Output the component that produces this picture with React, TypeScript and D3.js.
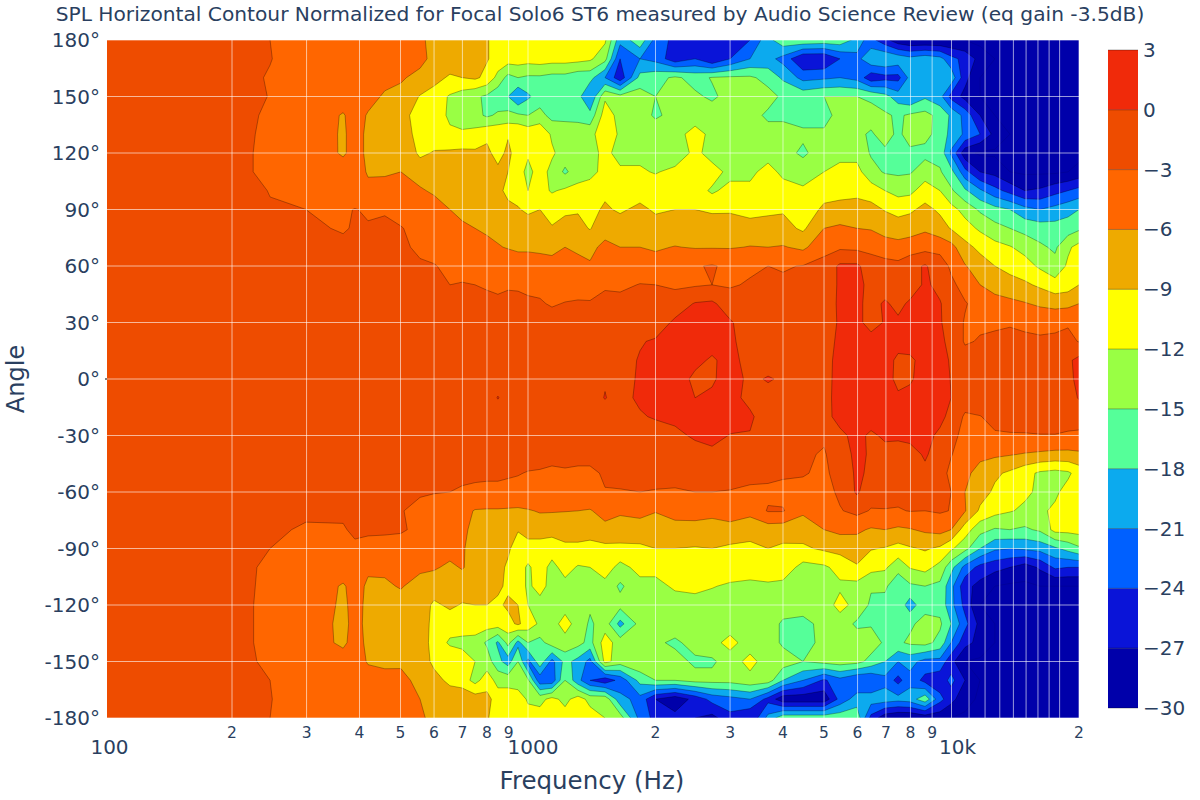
import * as d3 from 'd3';

// frequency of each measured column (Hz)
const freqs = [
  101, 143, 200, 221, 246, 299, 366, 390, 419, 459, 501, 556, 600,
  654, 699, 750, 800, 849, 897, 947, 1000, 1067, 1139,
  1223, 1312, 1401, 1520, 1650, 1838, 2000, 2224, 2480, 2720,
  3000, 3344, 3688, 4000, 4460, 5000, 5452, 5980, 6456, 6966,
  7480, 7980, 8660, 9394, 9980, 10760, 11680, 12660, 13740, 14900,
  16180, 17560, 18840, 20000,
];
const angles = d3.range(180, -181, -10);

// SPL in dB, one row per angle from 180 down to -180
const spl: number[][] = [
  [-1.5,-2,-2.3,-2.5,-3,-4.5,-4.5,-4.5,-4.6,-4.8,-5,-5.7,-6.5, -7,-7.3,-8,-8.8,-10,-10.3,-10.5,-10.5,-10.5,-10.5, -10.5,-10.5,-10.8,-11.5,-20,-16,-22,-25,-26,-25.5, -26,-24,-19,-16,-15.5,-16,-16,-19,-23,-26, -29,-30,-30,-30,-30,-30,-31,-31,-31,-31, -31,-31,-31,-31],
  [-1.5,-2,-2.3,-2.5,-2.9,-4.5,-4.5,-4.5,-4.6,-4.7,-4.8,-5.5,-6.5, -6.8,-7.3,-8,-8.8,-10,-10.5,-10.5,-10.8,-10.5,-10.8, -10.8,-11,-11.5,-14,-24,-21,-22,-26,-24,-27, -24,-21,-20,-22,-27,-27,-24,-22,-18.5,-18, -19,-20,-19,-20,-23,-25,-28,-30,-31,-31, -31,-31,-31,-31],
  [-1.5,-2,-2.4,-2.6,-3.2,-4.5,-4.6,-4.8,-4.9,-5.3,-5.8,-6.5,-7.8, -9.5,-9,-8.5,-9.8,-13,-16,-15,-15.5,-15.5,-16, -16,-17,-17,-21,-26,-17,-16,-14.5,-16,-14.8, -14.5,-14.5,-16,-18.5,-22,-21.5,-21,-22,-26,-25, -25,-20,-19,-20,-19,-26,-30,-31,-31,-31, -31,-31,-31,-31],
  [-1.5,-2,-2.3,-2.7,-3.05,-4.3,-4.8,-4.9,-5.2,-6.3,-6.5,-9.2,-10.5, -12.3,-13.5,-14.5,-15.5,-17,-18,-21,-18.5,-16.5,-18, -16.5,-17,-21,-12.5,-14,-13.5,-15,-14,-14.5,-15.5, -14,-14,-14,-15.5,-16,-15,-15,-15,-15.5,-17, -19.5,-21,-18.5,-20,-25,-28,-30,-31,-31,-31, -31,-31,-31,-31],
  [-1.5,-2,-2.2,-2.85,-3.2,-4.3,-6.2,-5,-6.2,-6.8,-6.5,-12,-10.5, -12.5,-13.5,-14,-15.5,-14.5,-14,-14.5,-15,-14,-16, -16,-16.5,-17,-10.5,-13,-13.5,-15.5,-14,-14,-13.5, -13.5,-14,-15.5,-15.5,-16,-16,-14,-14,-14,-14.5, -15.5,-14.5,-14,-16,-18.5,-22,-27,-30,-31,-31, -31,-31,-31,-31],
  [-1.5,-2,-2.2,-2.9,-3.3,-4.3,-6.3,-5.2,-6.4,-6.9,-6.8,-10.5,-10.3, -11.5,-11.5,-11,-9.5,-9.5,-9.2,-9,-10,-9.5,-12.5, -13,-12.5,-13,-10,-12.5,-13,-13,-13.5,-10.5,-13, -13.5,-13.5,-14,-14,-14.5,-14.5,-13,-14.5,-15.3,-14, -15.5,-14,-14.2,-16,-19,-21.5,-24,-28,-30,-31, -31,-31,-31,-31],
  [-1.5,-2,-2.2,-2.95,-3.3,-4.2,-6.3,-5.2,-6.4,-6.9,-6.8,-9.5,-8.8, -8.5,-8.3,-8.5,-8.5,-9.8,-8.5,-10,-11.5,-10,-11.5, -13.5,-14,-14,-10.5,-14,-13,-12.5,-14.5,-11,-13.5, -13.5,-13.5,-13.7,-14,-15.5,-13.5,-13,-13,-15.3,-15.5, -15.5,-15.5,-15.8,-16,-21.5,-29,-30.5,-30.5,-30.5,-30.5, -30.5,-31,-31,-31],
  [-1.5,-2,-2.2,-2.95,-3.3,-4.2,-4.9,-5,-6.2,-6.2,-6,-7.5,-7.5, -8,-8,-8,-8,-8.5,-9,-10.5,-13,-10.5,-13, -15.5,-13.5,-13,-11,-11,-11.5,-12.3,-11,-10,-10.5, -13,-13,-10.5,-13,-13.5,-12,-11,-11,-14,-15.3, -15.5,-15.3,-13.5,-14.7,-17,-23,-27,-28,-30,-30.5, -30.5,-30.5,-30,-29],
  [-1.6,-2,-2.3,-2.7,-3.05,-4,-4.7,-4.8,-5.5,-5.4,-5.5,-5.6,-6.5, -7,-7,-7.5,-8,-8.5,-9.5,-10,-12,-11,-12.3, -11.5,-11,-10.5,-9.7,-10,-10.5,-9.8,-11,-10.5,-12.5, -11,-11,-10.2,-10.3,-11.5,-10,-10,-10,-10.5,-12, -13,-12.8,-10.5,-12,-14.5,-17.5,-20.5,-23,-25,-27, -26.5,-25,-24,-23],
  [-1.5,-2,-2.3,-2.6,-2.9,-3,-3.4,-2.9,-3.3,-3.1,-3.7,-4,-4.5, -6,-6.3,-6.8,-7.5,-8,-8.5,-8.8,-9.5,-9,-10, -9.5,-9.3,-10,-8.5,-9.5,-8.2,-9.5,-9,-9,-9.5, -9.3,-10.3,-9.5,-9.3,-10.5,-8.5,-8,-7.5,-8,-9.2, -10,-9.5,-8.2,-9.5,-11,-13,-15.5,-17,-18,-20, -21,-20,-19,-18],
  [-1.5,-2,-2.2,-2.4,-2.5,-2.6,-3.2,-2.8,-2.8,-2.8,-2.9,-3.6,-4.5, -5.3,-5.8,-6,-6.3,-6.8,-7,-7.3,-7.6,-7.8,-8.8, -8,-8,-9.2,-6.8,-7.2,-6.5,-7.5,-7.5,-7,-7.2, -7.8,-7.5,-8,-8,-9.5,-6,-5.5,-6,-6.2,-7, -7.5,-7.3,-6.5,-7.8,-9.2,-10.8,-12.5,-14,-15,-16, -16.5,-16.8,-16.5,-15.5],
  [-1.5,-1.9,-2.1,-2.2,-2.3,-2.4,-2.5,-2.5,-2.5,-2.6,-2.7,-3.3,-3.7, -4,-4.5,-5,-5.5,-5.8,-6.2,-6.5,-6.4,-6.5,-6.4, -6,-6.3,-6.5,-5.5,-6,-6,-6.3,-5.9,-6.2,-6.2, -6.2,-5.9,-6,-5.8,-6.6,-4,-3.5,-3.7,-3.9,-4.8, -5,-4.5,-4,-4,-5,-8,-9.8,-11,-11.8,-13, -14.5,-15.5,-12.5,-11],
  [-1.5,-1.9,-2.1,-2.2,-2.3,-2.4,-2.5,-2.5,-2.5,-2.6,-2.6,-2.8,-2.9, -3.4,-3.6,-3.5,-3,-3.5,-4,-4.5,-4.8,-5,-5.5, -5.6,-5.5,-5.8,-3.8,-4.5,-4.5,-5,-3.5,-3.2,-2.8, -3.5,-3.5,-3,-3.2,-2.9,-2,0.5,0.5,-1.5,-1.8, -2.2,-1,0.3,-1.5,-3.5,-5.8,-7.5,-9,-10,-10.8, -12.5,-14,-11.5,-11],
  [-1.5,-1.8,-2,-2.1,-2.2,-2.3,-2.4,-2.4,-2.4,-2.5,-2.5,-2.6,-2.7, -3,-2.9,-3,-3.2,-3.5,-3.2,-3.2,-3.4,-3.5,-4, -4,-3.8,-3.5,-3.3,-3.5,-2.9,-3,-3.5,-3.3,-3, -3.3,-2.7,-2.5,-2.6,-2.6,-2.4,0.6,0.5,-0.5,-1.5, -1.5,-1.7,0.5,-0.8,-2.4,-4,-6,-7.2,-7.8,-8.5, -9.5,-10.8,-10.3,-9],
  [-1.5,-1.8,-1.9,-2,-2.1,-2.2,-2.2,-2.2,-2.2,-2.2,-2.2,-2.3,-2.3, -2.4,-2.4,-2.4,-2.5,-2.5,-2.5,-2.6,-2.7,-2.8,-3.2, -2.9,-2.8,-2.9,-2.3,-2.2,-2.2,-2.2,-1.5,0.2,0.5, -1.5,-1.8,-1.6,-1.7,-1.7,-1.6,0.5,0.7,-1,0.4, -0.8,0.5,0.7,0.2,-1.5,-2.8,-4,-4.8,-5.3,-5.8, -6.5,-7,-6.8,-6],
  [-1.4,-1.7,-1.8,-1.9,-2,-2,-2,-2,-2,-2,-2,-2,-2, -2.1,-2.1,-2.1,-2.1,-2.1,-2.1,-2.1,-2.1,-2.1,-2.1, -2.1,-2.2,-2.2,-2,-2,-0.8,-1.5,0.5,0.6,0.7, 0.3,-1.5,-1.6,-1.6,-1.6,-1.2,0.3,0.7,-1,0.2, 0.5,0.8,0.8,0.3,-1.5,-3.2,-3.4,-3.4,-3.2,-3.4, -3.6,-3.5,-3.2,-3.1],
  [-1.4,-1.6,-1.7,-1.8,-1.8,-1.8,-1.8,-1.8,-1.8,-1.8,-1.8,-1.8,-1.8, -1.8,-1.8,-1.8,-1.8,-1.7,-1.7,-1.7,-1.7,-1.6,-1.6, -1.6,-1.5,-1.5,-1.5,-1.4,-0.2,0.3,0.7,0.9,0.9, 0.5,-1.2,-1.3,-1.3,-1.3,-1,0.5,0.9,1,0.9, 0.9,1,1,0.6,-0.8,-3.3,-2.8,-2.5,-2.4,-2.6, -2.7,-2.6,-2.5,-3.1],
  [-1.3,-1.5,-1.5,-1.5,-1.6,-1.6,-1.6,-1.6,-1.6,-1.6,-1.6,-1.6,-1.5, -1.5,-1.5,-1.4,-1.2,-1.4,-1.4,-1.2,-1.4,-1.4,-1.3, -1.3,-1.2,-1.2,-0.6,-1,0.2,0.3,1,0.6,-0.3, 0.8,-0.9,-1.1,-1,-1,-0.8,0.7,1.2,1.2,1, -0.5,-0.4,0.8,1,-0.3,-1.8,-1.8,-1.7,-1.7,-1.8, -1.8,-1.7,-0.5,0.8],
  [-1.2,-1.4,-1.4,-1.4,-1.4,-1.4,-1.4,-1.4,-1.4,-1.4,-1.4,-1.4,-1.4, -1.3,-1.2,-1.2,-0.5,-1,-1,-1,-1,-0.8,-0.8, -0.8,-0.8,-0.6,-0.2,-0.9,0.3,0.5,1.2,-0.5,-0.3, 1,-0.5,0.2,-0.3,-0.8,-0.8,0.8,1.4,1.4,0.8, -0.5,-0.3,1,1,-0.1,-1.2,-1.2,-1.2,-1,-0.4, -1.2,-1.2,-0.6,0.6],
  [-1.2,-1.4,-1.4,-1.4,-1.4,-1.4,-1.4,-1.4,-1.4,-1.4,-1.4,-1.4,-1.3, -1.3,-1.2,-1.2,-1,0.1,-0.8,-1,-1,-1,-1, -1,-1,-1,0.1,-0.9,0.5,0.3,1.2,0,0.4, 0.6,-0.5,-0.8,-0.9,-0.9,-0.8,0.9,1.5,1.5,0.9, 0.3,0.7,1.2,1.1,0,-1.6,-1.3,-1.3,-0.9,-1.4, -1.5,-1.3,-1.2,0.2],
  [-1.3,-1.4,-1.5,-1.5,-1.5,-1.5,-1.5,-1.5,-1.5,-1.5,-1.5,-1.5,-1.4, -1.4,-1.4,-1.4,-1.4,-1.3,-1.3,-1.3,-1.3,-1.2,-1.2, -1.2,-1.2,-1.2,-1.1,-1,-0.3,0.3,0.8,1,1, 1,0.3,-1,-1,-1,-0.9,0.9,1.4,1.4,1.2, 0.8,0.6,1.1,0.8,-0.9,-3.4,-3.1,-2.2,-2,-1.8, -1.7,-1.6,-2,-1.8],
  [-1.5,-1.6,-1.7,-1.8,-1.8,-1.8,-1.8,-1.8,-1.8,-1.8,-1.8,-1.8,-1.8, -1.8,-1.8,-1.8,-1.8,-1.8,-1.7,-1.7,-1.7,-1.7,-1.7, -1.7,-1.7,-1.7,-1.7,-1.7,-1.7,-1.5,-0.8,0.5,0.8, -0.1,-0.1,-1.5,-1.6,-1.7,-2.5,-0.6,0.8,-0.5,0.5, 0.8,0.9,0.9,-0.6,-2.5,-3.5,-3.6,-3.3,-3.2,-3.2, -3.1,-3.1,-3.3,-3.5],
  [-1.6,-1.8,-1.9,-2,-2,-2.1,-2.2,-2.2,-2.2,-2.2,-2.2,-2.2,-2.2, -2.2,-2.2,-2.2,-2.2,-2.2,-2.2,-2.2,-2.2,-2.2,-2.2, -2.2,-2.2,-2.2,-2.2,-2.2,-2.2,-2.2,-1.8,-1.4,-0.6, -1.4,-1.8,-2,-2,-2.5,-3.3,-1.2,0.6,-0.3,-1, -2,-1.2,0.4,-1.5,-2.9,-4,-5,-5.5,-5.8,-6.2, -6.5,-6.8,-6.8,-6.5],
  [-1.7,-2,-2.2,-2.3,-2.4,-2.4,-2.4,-2.4,-2.5,-2.5,-2.5,-2.6,-2.6, -2.6,-2.6,-2.7,-2.7,-2.7,-2.8,-2.9,-3.1,-3.2,-3.5, -3.3,-3.5,-3.5,-2.7,-2.5,-2.5,-2.4,-2.3,-2.2,-2.2, -2.2,-2.2,-2.4,-2.6,-2.8,-3.5,-2,0.5,-0.5,-1.5, -1.5,-1.5,-0.7,-2.2,-3.5,-5,-7.5,-8.5,-9.5,-11, -12.5,-13,-12.5,-10.8],
  [-1.9,-2.1,-2.3,-2.4,-2.5,-2.5,-2.6,-2.6,-2.6,-2.7,-2.7,-2.8,-2.9, -3,-3.2,-3.3,-3.4,-3.4,-3.5,-3.6,-3.8,-3.7,-4, -3.8,-3.9,-3.9,-3.1,-3.1,-3,-3.1,-3.2,-3,-3, -3.1,-3.5,-3.5,-3.8,-3.8,-4,-2.5,0.4,-1.8,-2.2, -2.2,-2.4,-2.1,-2.4,-3,-6,-7.8,-9.5,-10.8,-11.5, -12.5,-12.5,-11,-10.5],
  [-1.9,-2.2,-2.4,-2.5,-2.6,-2.7,-2.8,-2.8,-2.8,-2.9,-2.9,-3.5,-4, -4.5,-5,-6.2,-6.3,-6.3,-6.4,-6.5,-6.2,-5.8,-5.8, -5.9,-6,-6.2,-5,-5.5,-5,-5.8,-5,-4.9,-5.2, -4.3,-4.8,-2.8,-2.8,-5.5,-4.5,-3.2,-2.2,-3.2,-3.1, -3.2,-2.9,-3,-2.7,-3.1,-5.8,-9.5,-11,-11.8,-12.5, -12.5,-11.5,-10.5,-10.5],
  [-2,-2.3,-2.5,-2.6,-2.7,-3.2,-3.1,-2.8,-2.8,-2.8,-2.8,-3.4,-4, -4.5,-5.2,-7,-7.8,-8,-8.2,-8.8,-8,-7.5,-8, -8,-8,-8,-6.8,-7.5,-7.5,-8,-7,-7,-7.2, -7.2,-8.5,-7.5,-7.7,-7.6,-6,-5.3,-5.5,-6.3,-6, -6.5,-6.2,-5.5,-5,-6,-10.5,-14,-15.3,-15,-15.5, -14.5,-11,-11,-10.8],
  [-2,-2.4,-2.7,-2.8,-3,-3.2,-3.6,-3.2,-3.4,-3.5,-3.8,-4,-4.5, -5,-5.6,-7.5,-8,-8.5,-8.5,-10.5,-10,-10.5,-10.5, -9.5,-9.5,-9.8,-9.8,-9.6,-9.5,-9,-9,-9.2,-9, -9.5,-9.3,-9,-9.5,-9.5,-8.5,-8,-7.5,-8.8,-9.2, -10,-9.3,-8.7,-9.5,-11.5,-14,-18,-20.5,-21,-20.5, -20,-18.5,-17,-15.5],
  [-2,-2.4,-2.7,-2.9,-3.2,-4,-4.5,-4.7,-5.6,-5.5,-5,-5.5,-5.7, -6.5,-5.8,-7,-7.5,-8,-9.5,-10.5,-12.5,-10.5,-13, -10.8,-12.3,-12,-10.5,-13,-11,-11,-11,-10.5,-10.3, -10,-10,-10.2,-10.3,-13,-12.5,-11,-9.3,-11,-11.5, -14,-11.8,-11,-13,-17,-22,-25,-26,-27,-28.5, -26.5,-23.5,-24,-24],
  [-2,-2.4,-2.7,-2.9,-3.3,-4,-6.3,-5,-6.4,-6.4,-5.8,-7,-7.5, -7.5,-7.5,-8,-8.2,-8.5,-9.5,-10.5,-12.5,-11,-13, -13,-12.5,-13,-13,-15.5,-13,-13,-11.5,-11,-11.8, -12.5,-13,-12.5,-12.8,-13.2,-13,-12.5,-13,-14.7,-14.5, -17,-15.5,-15,-15.7,-20,-26,-28,-30,-30.5,-30.5, -30,-30,-30,-30],
  [-2,-2.3,-2.6,-2.9,-3.5,-4,-6.5,-5.2,-6.5,-7,-7,-7.5,-9.5, -8.5,-9.2,-9,-9,-9.5,-8.5,-9,-12,-13,-13, -13,-13.5,-14.5,-13.5,-14,-13.5,-13.5,-13.5,-13.5,-13.5, -13.5,-13.5,-13,-13.5,-13.5,-13.5,-11,-13,-15.5,-16, -16,-19.5,-16,-16,-20,-25,-30,-30.5,-30.5,-30.5, -30.5,-30.5,-30.5,-30.5],
  [-2,-2.2,-2.6,-2.9,-3.5,-4.2,-6.7,-5.2,-6.6,-7,-7,-7.5,-9.8, -10.5,-10.5,-10.5,-10.5,-10.5,-10,-8.5,-10.5,-12.5,-13, -11,-13,-15.5,-13.5,-19,-14,-13.5,-13.5,-13.5,-13.5, -13.5,-13.5,-13.5,-15.5,-16,-14,-13.5,-15.5,-15.3,-15.5, -15.5,-15.5,-14,-14.5,-18,-23,-28,-30,-30.5,-30.5, -30.5,-30.5,-30.5,-30.5],
  [-2,-2.2,-2.6,-2.9,-3.5,-4.5,-6.5,-5,-6.5,-7,-7,-7.5,-10, -12.5,-12.8,-13,-15.5,-18.5,-14,-19,-15,-16,-13.5, -13,-14,-16,-10.5,-13.5,-13.5,-14.5,-15.5,-14,-13, -11,-13.5,-13.5,-15.5,-17,-13.5,-13.5,-13.5,-13.5,-15.5, -15.5,-14.5,-14,-16,-21,-26,-28,-30,-30.5,-30.5, -30.5,-30.5,-30.5,-30.5],
  [-2,-2.2,-2.7,-2.9,-3.2,-4.3,-4.8,-4.8,-6.2,-6.5,-6.3,-6.5,-10, -9.5,-10.5,-12,-13.5,-17,-19.5,-15,-22,-16,-22, -17,-19,-22,-11,-13.5,-12.5,-14,-14,-15.5,-15.5, -13.5,-11,-13.5,-13.5,-15,-14,-13.5,-14,-16,-18, -21,-20,-22,-22,-26,-30,-30.5,-30.5,-30.5,-30.5, -30.5,-30.5,-30.5,-30.5],
  [-2,-2.3,-2.7,-2.8,-3,-4.5,-4.5,-4.5,-5,-5.2,-5.5,-6.5,-7.5, -10,-10.5,-13,-10.5,-13,-13,-14,-14.5,-23,-23, -15,-20,-24,-26,-23,-17,-15,-15,-14,-14, -14,-13,-13.5,-18,-21,-24.5,-22,-24,-24,-22, -25,-22,-25,-26,-23,-27,-30,-30.5,-30.5,-30.5, -30.5,-30.5,-30.5,-30.5],
  [-2,-2.3,-2.6,-2.7,-2.9,-4.5,-4.5,-4.5,-4.8,-5,-5.5,-6,-7, -6.5,-6.8,-7.5,-8,-10.5,-10.5,-10,-12.5,-13,-11, -13,-10.5,-13,-13,-20,-22,-27,-29,-26,-23, -22,-21,-25,-29,-29,-29,-23,-19.5,-19.5,-19.5, -20,-19.5,-16,-23,-26,-29,-30.5,-30.5,-30.5,-30.5, -30.5,-30.5,-30.5,-30.5],
  [-1.5,-2,-2.3,-2.5,-3,-4.5,-4.5,-4.5,-4.6,-4.8,-5,-5.7,-6.5, -7,-7.3,-8,-8.8,-10,-10.3,-9.8,-10.5,-10.5,-10.5, -10.5,-10.5,-10.5,-12,-13.5,-22,-25,-26,-27,-28, -25,-27,-20,-16,-16,-16,-16,-16,-25,-29, -30,-30,-29,-29,-30,-30.5,-31,-31,-31,-31, -31,-31,-31,-31],
];

const levels = d3.range(-30, 1, 3);
const bandColors = ['#0000aa', '#0a14d8', '#0060ff', '#0caaee', '#55ff99', '#99ff44', '#ffff00', '#eeaa00', '#ff6600', '#ee4c00', '#f02a0a'];

const majorTicks = [
  { f: 100, label: '100', dx: 5 },
  { f: 1000, label: '1000', dx: 5 },
  { f: 10000, label: '10k', dx: 6 },
];
const minorTicks = [200, 300, 400, 500, 600, 700, 800, 900, 2000, 3000, 4000, 5000, 6000, 7000, 8000, 9000, 20000];
const extraGrid = [11000, 12000, 13000, 14000, 15000, 16000, 17000, 18000];
const angleTicks = d3.range(180, -181, -30);
const barTicks = d3.range(3, -31, -3);

const x = d3.scaleLog().domain([200, 20000]).range([232, 1079]);
const y = d3.scaleLinear().domain([-180, 180]).range([718, 40]);
const barY = d3.scaleLinear().domain([-30, 3]).range([708, 50]);

const fontFamily = '"DejaVu Sans", Verdana, sans-serif';
const ink = '#2a3f5f';

const nx = freqs.length;
const ny = angles.length;
spl.forEach((r, i) => {
  if (r.length !== nx) throw new Error(`row ${i} has ${r.length} values`);
});
if (spl.length !== ny) throw new Error(`got ${spl.length} rows`);

// grid index -> pixel, the grid is not evenly spaced in log frequency
const colX = d3.scaleLinear().domain(d3.range(nx)).range(freqs.map(f => x(f)));
const rowY = d3.scaleLinear().domain(d3.range(ny)).range(angles.map(a => y(a)));
const project = d3.geoTransform({
  point(px, py) {
    // d3.contours puts grid values at cell centres
    this.stream.point(colX(px - 0.5), rowY(py - 0.5));
  },
});
const path = d3.geoPath(project);
const bands = d3.contours().size([nx, ny]).thresholds(levels).smooth(true)(spl.flat());

const App = () => (
  <svg width={1200} height={800} style={{ position: 'absolute', left: 0, top: 0, background: '#fff' }} fontFamily={fontFamily}>
    <defs>
      <clipPath id="plot">
        <rect x={107} y={40} width={972} height={678} />
      </clipPath>
    </defs>
    <text x={600} y={21} textAnchor="middle" fontSize={20.2} fill={ink}>
      SPL Horizontal Contour Normalized for Focal Solo6 ST6 measured by Audio Science Review (eq gain -3.5dB)
    </text>

    <g clipPath="url(#plot)">
      <rect x={107} y={40} width={972} height={678} fill={bandColors[0]} />
      {bands.map((b, i) => (
        <path
          key={b.value}
          d={path(b as any) || ''}
          fill={bandColors[i]}
          fillRule="evenodd"
          stroke="#000"
          strokeOpacity={i === 0 ? 0.15 : 0.5}
          strokeWidth={0.6}
        />
      ))}
      {[...majorTicks.map(t => t.f), ...minorTicks, ...extraGrid].map(f => (
        <line key={f} x1={x(f)} x2={x(f)} y1={40} y2={718} stroke="#fff" strokeOpacity={0.6} strokeWidth={1} />
      ))}
      {angleTicks.map(a => (
        <line key={a} x1={107} x2={1079} y1={y(a)} y2={y(a)} stroke="#fff" strokeOpacity={0.6} strokeWidth={1} />
      ))}
    </g>
    <line x1={105} x2={107} y1={y(0)} y2={y(0)} stroke="#000" strokeWidth={1} />

    {angleTicks.map(a => (
      <text key={a} x={100} y={y(a) + 7} textAnchor="end" fontSize={20} fill={ink}>
        {`${a}°`}
      </text>
    ))}
    {majorTicks.map(t => (
      <text key={t.f} x={x(t.f) + t.dx} y={754} textAnchor="middle" fontSize={20} fill={ink}>
        {t.label}
      </text>
    ))}
    {minorTicks.map(f => (
      <text key={f} x={x(f)} y={738} textAnchor="middle" fontSize={15.5} fill={ink}>
        {String(f).replace(/0+$/, '')}
      </text>
    ))}
    <text x={592} y={789} textAnchor="middle" fontSize={24.5} fill={ink}>
      Frequency (Hz)
    </text>
    <text transform="translate(24,379) rotate(-90)" textAnchor="middle" fontSize={24} fill={ink}>
      Angle
    </text>

    {levels.map((l, i) => (
      <rect
        key={l}
        x={1108}
        y={barY(l + 3)}
        width={30}
        height={barY(l) - barY(l + 3)}
        fill={bandColors[i]}
      />
    ))}
    {barTicks.map(t => (
      <g key={t}>
        <line x1={1108} x2={1138} y1={barY(t)} y2={barY(t)} stroke="#000" strokeOpacity={0.4} strokeWidth={0.8} />
        <text x={1143} y={barY(t) + 7} fontSize={20} fill={ink}>
          {d3.format('')(t).replace('-', '−')}
        </text>
      </g>
    ))}
  </svg>
);

export default App;
